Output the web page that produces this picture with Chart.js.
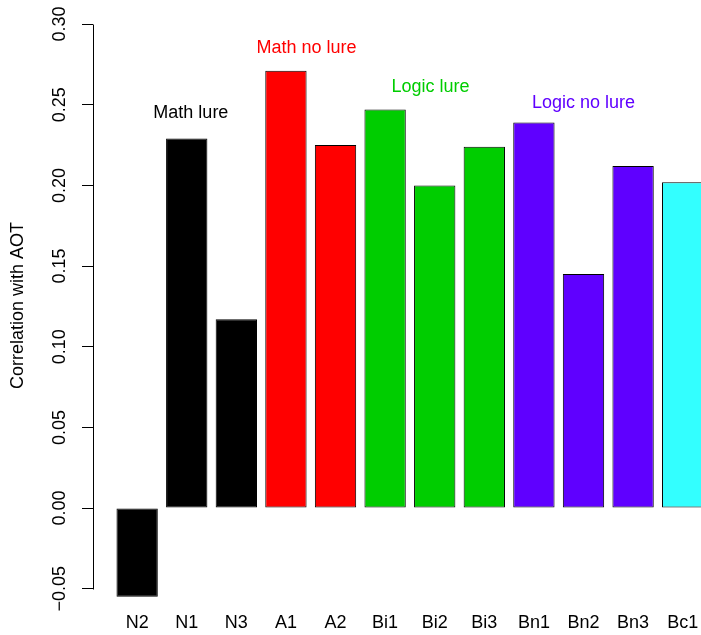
<!DOCTYPE html>
<html><head><meta charset="utf-8">
<script src="https://cdn.jsdelivr.net/npm/chart.js@4/dist/chart.umd.min.js"></script>
<style>html,body{margin:0;padding:0;background:#fff;overflow:hidden}#wrap{width:701px;height:635px;position:relative}</style>
</head><body><div id="wrap"><canvas id="c" width="701" height="635"></canvas></div>
<script>
const categories = ['N2','N1','N3','A1','A2','Bi1','Bi2','Bi3','Bn1','Bn2','Bn3','Bc1'];
const correlations = [-0.055,0.229,0.117,0.271,0.225,0.247,0.200,0.224,0.239,0.145,0.212,0.202];
const barColors = ['#000000','#000000','#000000','#FF0000','#FF0000','#00CD00','#00CD00','#00CD00','#5F00FF','#5F00FF','#5F00FF','#33FFFF'];
const yTickValues = [-0.05,0,0.05,0.10,0.15,0.20,0.25,0.30];
const yTickLabels = ['\u22120.05','0.00','0.05','0.10','0.15','0.20','0.25','0.30'];
const groupLabels = ['Math lure','Math no lure','Logic lure','Logic no lure'];
const groupColors = ['#000000','#FF0000','#00CD00','#5F00FF'];
const groupX = [2.0,4.8,7.8,11.5];
const groupY = [0.245,0.285,0.261,0.251];

// barplot positions: width 1, space 0.2
const barCenters = categories.map((_, i) => 0.7 + 1.2 * i);
const FONT = 'Liberation Sans, Arial, Helvetica, sans-serif';
const FS = 18;

const axisLine = {
  id: 'axisLine',
  afterDraw(chart) {
    const y = chart.scales.y, ctx = chart.ctx;
    const x = Math.round(chart.chartArea.left) + 0.5;
    ctx.save();
    ctx.strokeStyle = '#000'; ctx.lineWidth = 1;
    ctx.beginPath();
    ctx.moveTo(x, Math.round(y.getPixelForValue(yTickValues[0])) + 0.5);
    ctx.lineTo(x, Math.round(y.getPixelForValue(yTickValues[yTickValues.length - 1])) + 0.5);
    ctx.stroke();
    ctx.restore();
  }
};
const groupText = {
  id: 'groupText',
  afterDatasetsDraw(chart) {
    const ctx = chart.ctx, sx = chart.scales.x, sy = chart.scales.y;
    ctx.save();
    ctx.font = FS + 'px ' + FONT;
    ctx.textAlign = 'center'; ctx.textBaseline = 'middle';
    groupLabels.forEach((t, i) => {
      ctx.fillStyle = groupColors[i];
      ctx.fillText(t, sx.getPixelForValue(groupX[i]), sy.getPixelForValue(groupY[i]));
    });
    ctx.restore();
  }
};

new Chart(document.getElementById('c'), {
  type: 'bar',
  data: { datasets: [{
    data: categories.map((c, i) => ({ x: barCenters[i], y: correlations[i] })),
    backgroundColor: barColors, borderColor: '#000', borderWidth: 1, borderSkipped: false,
    barPercentage: 1 / 1.2, categoryPercentage: 1
  }]},
  options: {
    responsive: false, animation: false,
    layout: { padding: 0 },
    plugins: { legend: { display: false }, tooltip: { enabled: false } },
    scales: {
      x: {
        type: 'linear', min: -0.368, max: 14.343, offset: false,
        grid: { display: false, offset: false }, border: { display: false },
        afterBuildTicks: s => { s.ticks = barCenters.map(v => ({ value: v })); },
        afterFit: s => { s.height = 24; s.paddingLeft = 0; s.paddingRight = 0; },
        ticks: { callback: (v, i) => categories[i], autoSkip: false, maxRotation: 0, minRotation: 0,
                 color: '#000', font: { family: FONT, size: FS }, padding: -7 }
      },
      y: {
        min: -0.0638, max: 0.3149,
        afterBuildTicks: s => { s.ticks = yTickValues.map(v => ({ value: v })); },
        afterFit: s => { s.width = 93; s.paddingTop = 0; s.paddingBottom = 0; },
        ticks: { callback: (v, i) => yTickLabels[i], minRotation: 90, maxRotation: 90, crossAlign: 'center',
                 autoSkip: false, padding: -1, color: '#000', font: { family: FONT, size: FS } },
        grid: { drawOnChartArea: false, tickLength: 11, color: '#000', tickColor: '#000', lineWidth: 1 },
        border: { display: false },
        title: { display: true, text: 'Correlation with AOT', color: '#000',
                 font: { family: FONT, size: FS }, padding: { top: 7, bottom: 0 } }
      }
    }
  },
  plugins: [axisLine, groupText]
});
</script></body></html>
